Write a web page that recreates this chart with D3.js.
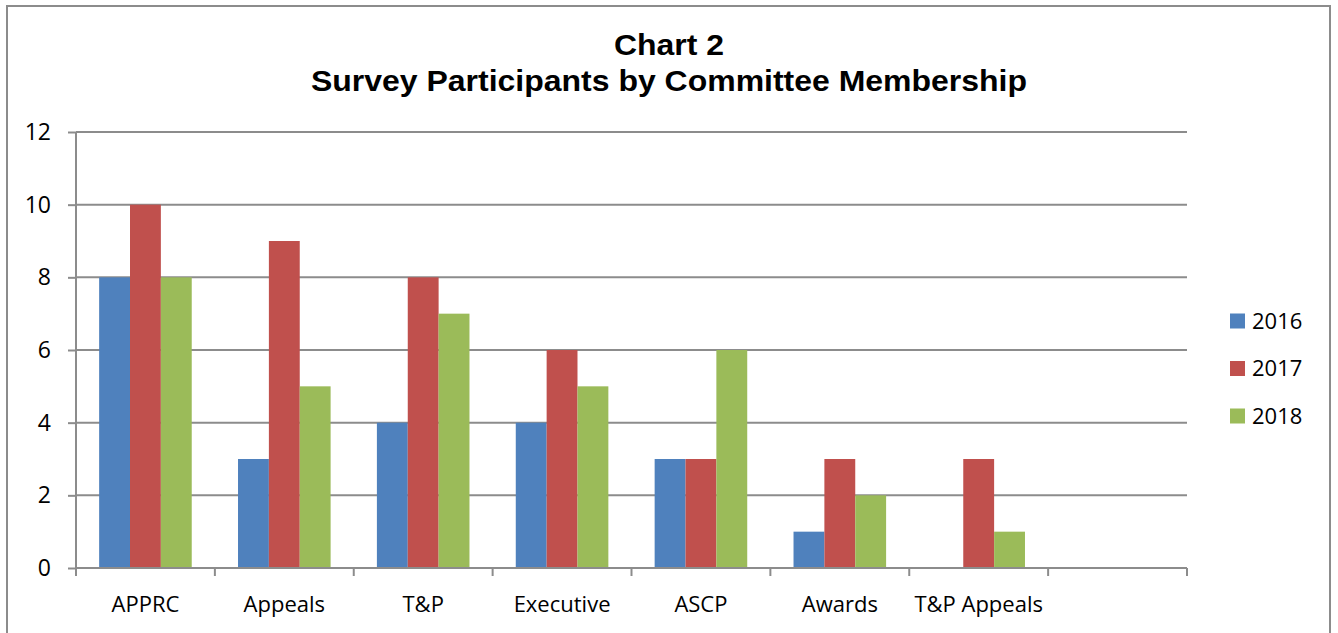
<!DOCTYPE html>
<html><head><meta charset="utf-8">
<script src="https://cdn.jsdelivr.net/npm/d3@7"></script>
<style>body{margin:0;background:#fff;}svg{display:block;}</style>
</head><body>
<script>
const categories = ["APPRC","Appeals","T&P","Executive","ASCP","Awards","T&P Appeals",""];
const seriesNames = ["2016","2017","2018"];
const values2016 = [8,3,4,4,3,1,0,null];
const values2017 = [10,9,8,6,3,3,3,null];
const values2018 = [8,5,7,5,6,2,1,null];
const colors = ["#4F81BD","#C0504D","#9BBB59"];
const yTicks = [0,2,4,6,8,10,12];
const titleLines = ["Chart 2","Survey Participants by Committee Membership"];

(function(){
const W=1338,H=633;
const svg=d3.select("body").append("svg").attr("width",W).attr("height",H);
svg.append("rect").attr("x",7).attr("y",6).attr("width",1323).attr("height",H).attr("fill","#fff").attr("stroke","#8c8c8c").attr("stroke-width",2);

const pLeft=76,pRight=1187,pTop=132,pBottom=568;
const x=d3.scaleBand().domain(d3.range(categories.length)).range([pLeft,pRight]).paddingInner(0).paddingOuter(0);
const y=d3.scaleLinear().domain([0,12]).range([pBottom,pTop]);
const inner=d3.scaleBand().domain(seriesNames).range([0,x.bandwidth()]).paddingOuter(0.75).paddingInner(0);

svg.append("g").selectAll("line").data(yTicks.filter(d=>d>0)).join("line")
  .attr("x1",pLeft).attr("x2",pRight).attr("y1",d=>y(d)).attr("y2",d=>y(d))
  .attr("stroke","#8c8c8c").attr("stroke-width",2);

const all=[values2016,values2017,values2018];
all.forEach((vals,si)=>{
  svg.append("g").selectAll("rect").data(vals.map((v,i)=>({v,i})).filter(d=>d.v!=null && d.v>0)).join("rect")
    .attr("x",d=>x(d.i)+inner(seriesNames[si]))
    .attr("width",inner.bandwidth())
    .attr("y",d=>y(d.v)).attr("height",d=>y(0)-y(d.v))
    .attr("fill",colors[si]);
});

const yAxis=d3.axisLeft(y).tickValues(yTicks).tickSize(8).tickPadding(17);
const ga=svg.append("g").attr("transform",`translate(${pLeft},0)`).call(yAxis);
ga.select(".domain").attr("stroke","#8c8c8c").attr("stroke-width",2).attr("d",`M0,${pTop}V${pBottom}`);
ga.selectAll(".tick line").attr("stroke","#8c8c8c").attr("stroke-width",2);
ga.selectAll("text").attr("font-family","'Open Sans',sans-serif").attr("font-size",23).attr("fill","#000");

const gx=svg.append("g").attr("transform",`translate(0,${pBottom})`);
gx.append("line").attr("x1",pLeft).attr("x2",pRight).attr("stroke","#8c8c8c").attr("stroke-width",2);
gx.selectAll("line.t").data(d3.range(categories.length+1)).join("line").attr("class","t")
  .attr("x1",d=>d<categories.length?x(d):pRight).attr("x2",d=>d<categories.length?x(d):pRight)
  .attr("y1",0).attr("y2",8).attr("stroke","#8c8c8c").attr("stroke-width",2);
gx.selectAll("text").data(categories).join("text")
  .attr("x",(d,i)=>x(i)+x.bandwidth()/2).attr("y",44)
  .attr("text-anchor","middle").attr("font-family","'Open Sans',sans-serif").attr("font-size",22).attr("fill","#000")
  .text(d=>d);

const titleWidths=[110,716];
svg.append("g").selectAll("text").data(titleLines).join("text")
  .attr("x",669).attr("y",(d,i)=>55+i*36).attr("text-anchor","middle")
  .attr("font-family","'Liberation Sans',Arial,sans-serif").attr("font-weight","bold").attr("font-size",29).attr("fill","#000")
  .attr("textLength",(d,i)=>titleWidths[i]).attr("lengthAdjust","spacingAndGlyphs")
  .text(d=>d);

const lg=svg.append("g").selectAll("g").data(seriesNames).join("g")
  .attr("transform",(d,i)=>`translate(1230,${321+i*47.5})`);
lg.append("rect").attr("x",0).attr("y",-7.5).attr("width",15).attr("height",15).attr("fill",(d,i)=>colors[i]);
lg.append("text").attr("x",22).attr("y",0).attr("dy","0.35em").attr("font-family","'Open Sans',sans-serif").attr("font-size",22).attr("fill","#000").text(d=>d);
})();
</script>
</body></html>
